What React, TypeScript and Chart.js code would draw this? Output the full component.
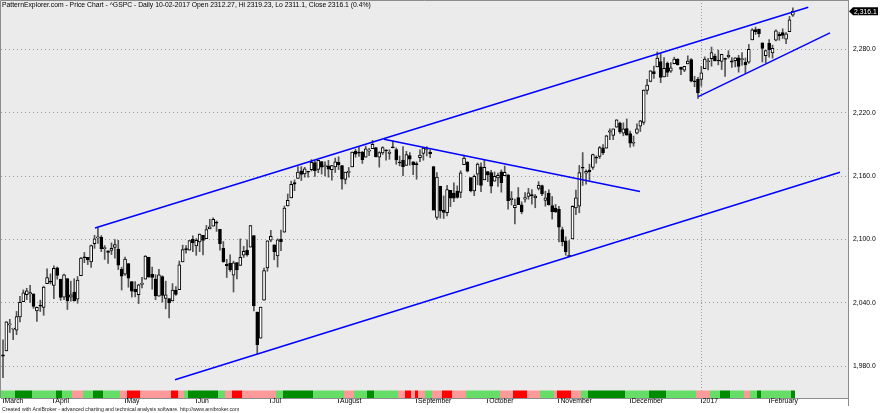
import React, { useEffect, useRef } from 'react';
import { Chart, registerables } from 'chart.js';
Chart.register(...registerables);

// ---- Data: ^GSPC daily, 10 Mar 2016 .. 10 Feb 2017 (bar index 0..233) ----
const opens = [
  1990.97, 1994.71, 2019.27, 2015.27, 2014.24, 2026.90, 2041.16, 2047.88, 2048.64, 2048.55, 2032.48, 2037.89, 2035.75, 2058.27, 2060.03,
  2056.62, 2073.19, 2062.50, 2045.56, 2063.01, 2045.54, 2050.23, 2043.72, 2065.92, 2082.89, 2083.10, 2078.83, 2096.05, 2101.52, 2102.09, 2091.49, 2089.37, 2089.84, 2092.57, 2090.93, 2071.82,
  2067.17, 2077.18, 2060.30, 2052.95, 2047.77, 2057.55, 2062.63, 2083.29, 2067.17, 2062.50, 2046.53, 2065.04, 2044.38, 2044.21, 2041.88, 2052.23, 2052.65, 2078.93, 2091.44, 2090.06, 2100.13,
  2093.94, 2097.71, 2104.07, 2100.83, 2110.18, 2112.71, 2115.65, 2109.57, 2091.75, 2076.65, 2077.60, 2066.36, 2078.20, 2075.58, 2085.19, 2089.75, 2092.80, 2103.81, 2031.45, 2006.67, 2042.69, 2073.17,
  2099.34, 2095.05, 2084.43, 2100.42, 2106.97, 2131.72, 2139.50, 2153.81, 2157.88, 2165.13, 2162.04, 2163.79, 2166.10, 2172.91, 2166.47, 2173.71, 2168.97, 2169.81, 2166.05, 2168.83,
  2173.15, 2169.94, 2156.81, 2163.51, 2168.79, 2183.76, 2182.24, 2182.81, 2177.97, 2183.74, 2186.08, 2187.02, 2177.84, 2181.90, 2184.24, 2181.58, 2187.81, 2185.09, 2173.29, 2175.10, 2170.19, 2179.45, 2173.56,
  2171.33, 2177.49, 2181.61, 2185.17, 2182.76, 2169.08, 2120.86, 2150.47, 2127.86, 2125.36, 2146.48, 2143.99, 2145.94, 2144.58, 2170.94, 2173.29, 2158.54, 2146.04, 2161.85, 2168.90, 2156.51,
  2164.33, 2163.37, 2155.15, 2158.22, 2164.19, 2160.39, 2161.35, 2137.67, 2130.26, 2139.68, 2132.95, 2138.31, 2140.81, 2142.51, 2139.43, 2148.50, 2151.14, 2136.97, 2144.06, 2132.23, 2129.78,
  2128.68, 2109.43, 2098.80, 2083.79, 2100.59, 2129.92, 2131.56, 2167.49, 2162.71, 2165.64, 2168.29, 2177.53, 2178.61, 2186.85, 2186.43, 2201.56, 2198.55, 2206.27, 2210.21, 2200.76, 2204.97,
  2200.17, 2191.12, 2200.65, 2207.26, 2210.72, 2241.13, 2249.73, 2258.83, 2263.32, 2268.35, 2253.77, 2266.81, 2259.24, 2266.50, 2270.54, 2262.93, 2260.25, 2266.23, 2270.23, 2249.50, 2251.61,
  2251.57, 2261.60, 2268.18, 2271.14, 2273.59, 2269.72, 2268.60, 2271.14, 2272.74, 2269.14, 2269.14, 2271.90, 2269.96, 2267.78, 2267.88, 2288.88, 2298.63, 2299.02, 2286.01, 2274.02,
  2285.59, 2276.69, 2288.54, 2294.28, 2295.87, 2289.55, 2296.70, 2312.27,
];
const highs = [
  2005.08, 2022.37, 2024.57, 2015.94, 2032.02, 2046.24, 2052.36, 2053.91, 2056.60, 2048.55, 2036.04, 2042.67, 2055.91, 2072.21, 2067.57,
  2075.07, 2074.02, 2062.50, 2067.33, 2063.01, 2060.63, 2062.93, 2065.05, 2083.18, 2087.84, 2083.22, 2094.66, 2104.05, 2111.05, 2103.78, 2094.32, 2089.37, 2096.87, 2099.89, 2099.30, 2073.85,
  2083.42, 2077.18, 2060.30, 2060.23, 2057.72, 2064.15, 2084.87, 2083.29, 2073.99, 2066.79, 2071.88, 2065.69, 2060.61, 2044.21, 2058.35, 2055.58, 2079.67, 2094.73, 2094.30, 2099.06, 2103.48,
  2100.97, 2105.26, 2104.07, 2113.36, 2119.22, 2120.55, 2117.64, 2109.57, 2098.12, 2081.30, 2085.65, 2079.62, 2078.20, 2100.66, 2093.66, 2099.71, 2113.32, 2103.81, 2031.45, 2036.09, 2073.13, 2098.94,
  2108.71, 2095.05, 2100.72, 2109.08, 2131.71, 2143.16, 2155.40, 2156.45, 2168.99, 2169.05, 2168.35, 2164.63, 2175.63, 2174.56, 2175.11, 2173.71, 2173.54, 2174.98, 2170.22, 2177.09,
  2178.29, 2170.20, 2163.79, 2168.19, 2182.87, 2185.44, 2187.66, 2183.41, 2188.45, 2186.28, 2193.81, 2187.02, 2183.08, 2187.81, 2185.00, 2184.94, 2193.42, 2186.66, 2179.00, 2187.94, 2183.48, 2182.27, 2173.79,
  2173.56, 2184.87, 2186.57, 2187.87, 2184.94, 2169.08, 2163.30, 2150.47, 2141.33, 2151.31, 2146.48, 2153.61, 2150.80, 2165.11, 2179.99, 2173.75, 2158.54, 2161.13, 2172.40, 2172.67, 2175.30,
  2164.41, 2165.46, 2163.95, 2162.93, 2165.86, 2169.60, 2161.56, 2145.36, 2138.19, 2149.19, 2135.70, 2144.38, 2148.44, 2147.18, 2142.63, 2154.79, 2151.54, 2145.73, 2147.13, 2140.72, 2133.25,
  2131.45, 2111.76, 2102.56, 2099.07, 2132.00, 2146.87, 2170.10, 2182.30, 2165.92, 2171.36, 2180.84, 2179.22, 2188.06, 2189.89, 2198.70, 2204.80, 2204.72, 2213.35, 2211.14, 2210.46, 2214.10,
  2202.60, 2197.95, 2209.42, 2212.78, 2241.63, 2251.69, 2259.80, 2264.03, 2277.53, 2276.20, 2272.12, 2268.05, 2267.47, 2272.56, 2271.23, 2263.18, 2263.79, 2273.82, 2271.31, 2254.51, 2253.58,
  2263.88, 2272.82, 2271.50, 2282.10, 2275.49, 2279.27, 2275.32, 2271.78, 2278.68, 2272.08, 2272.01, 2274.33, 2276.96, 2271.78, 2284.63, 2299.55, 2300.99, 2299.02, 2286.01, 2279.09,
  2289.14, 2283.97, 2298.31, 2296.18, 2299.40, 2295.91, 2311.08, 2319.23,
];
const lows = [
  1969.25, 1994.71, 2012.05, 2005.23, 2010.04, 2022.16, 2041.16, 2043.14, 2040.57, 2034.86, 2022.49, 2031.96, 2028.31, 2058.27, 2057.99,
  2043.98, 2062.57, 2042.56, 2043.09, 2033.80, 2041.69, 2041.88, 2039.74, 2065.92, 2078.13, 2076.31, 2073.65, 2091.68, 2096.32, 2088.52, 2081.20, 2077.52, 2085.80, 2082.31, 2071.62, 2052.28,
  2066.11, 2054.89, 2045.55, 2045.77, 2039.45, 2054.31, 2062.63, 2064.46, 2053.13, 2043.13, 2046.53, 2040.82, 2034.49, 2025.91, 2041.88, 2047.26, 2052.65, 2078.93, 2087.08, 2090.06, 2088.66,
  2085.10, 2088.59, 2085.36, 2100.83, 2110.18, 2112.71, 2107.73, 2089.96, 2078.46, 2064.10, 2069.80, 2050.37, 2062.84, 2075.58, 2083.02, 2084.36, 2092.80, 2032.57, 1991.68, 2006.67, 2042.69, 2070.00,
  2097.90, 2080.86, 2074.02, 2089.39, 2106.97, 2131.72, 2139.50, 2146.21, 2157.88, 2155.79, 2159.07, 2159.01, 2164.89, 2159.75, 2163.24, 2161.95, 2160.18, 2159.07, 2156.08, 2163.49,
  2166.21, 2147.58, 2152.70, 2159.07, 2168.79, 2177.85, 2178.61, 2172.00, 2177.97, 2179.42, 2186.08, 2178.15, 2168.50, 2180.46, 2175.13, 2175.96, 2186.80, 2171.25, 2169.74, 2160.39, 2170.19, 2170.41, 2161.35,
  2157.09, 2173.59, 2175.10, 2179.07, 2177.49, 2127.81, 2119.12, 2120.27, 2119.90, 2122.36, 2131.20, 2135.91, 2139.17, 2139.57, 2170.94, 2163.97, 2145.04, 2141.55, 2151.79, 2145.20, 2156.51,
  2154.77, 2144.01, 2155.15, 2150.28, 2144.85, 2160.39, 2128.84, 2132.77, 2114.72, 2132.98, 2124.43, 2135.49, 2138.15, 2133.44, 2130.09, 2146.91, 2141.54, 2131.59, 2132.52, 2119.36, 2125.53,
  2097.85, 2094.00, 2085.23, 2083.79, 2100.59, 2123.56, 2125.35, 2151.17, 2152.49, 2156.08, 2166.38, 2172.20, 2176.65, 2180.38, 2186.43, 2194.51, 2194.51, 2206.27, 2200.36, 2198.15, 2198.81,
  2187.44, 2188.37, 2199.97, 2202.21, 2208.93, 2237.57, 2249.23, 2252.37, 2263.32, 2248.44, 2253.77, 2254.24, 2258.21, 2266.14, 2265.15, 2256.08, 2258.84, 2266.15, 2249.11, 2244.56, 2233.62,
  2245.13, 2261.60, 2260.45, 2264.06, 2268.90, 2265.27, 2260.83, 2254.25, 2271.51, 2262.81, 2263.35, 2258.41, 2265.01, 2257.02, 2266.68, 2288.88, 2294.08, 2291.62, 2268.04, 2267.21,
  2272.44, 2271.65, 2287.88, 2288.57, 2290.16, 2285.38, 2296.61, 2311.10,
];
const closes = [
  1989.57, 2022.19, 2019.64, 2015.93, 2027.22, 2040.59, 2049.58, 2051.60, 2049.80, 2036.71, 2035.94, 2037.05, 2055.01, 2063.95, 2059.74,
  2072.78, 2066.13, 2045.17, 2066.66, 2041.91, 2047.60, 2041.99, 2061.72, 2082.42, 2082.78, 2080.73, 2094.34, 2100.80, 2102.40, 2091.48, 2091.58, 2087.79, 2091.70, 2095.15, 2075.81, 2065.30,
  2081.43, 2063.37, 2051.12, 2050.63, 2057.14, 2058.69, 2084.39, 2064.46, 2064.11, 2046.61, 2066.66, 2047.21, 2047.63, 2040.04, 2052.32, 2048.04, 2076.06, 2090.54, 2090.10, 2099.06, 2096.95,
  2099.33, 2105.26, 2099.13, 2109.41, 2112.13, 2119.12, 2115.48, 2096.07, 2079.06, 2075.32, 2071.50, 2077.99, 2071.22, 2083.25, 2088.90, 2085.45, 2113.32, 2037.41, 2000.54, 2036.09, 2070.77, 2098.86,
  2102.95, 2088.55, 2099.73, 2097.90, 2129.90, 2137.16, 2152.14, 2152.43, 2163.75, 2161.74, 2166.89, 2163.78, 2173.02, 2165.17, 2175.03, 2168.48, 2169.18, 2166.58, 2170.06, 2173.60,
  2170.84, 2157.03, 2163.79, 2164.25, 2182.87, 2180.89, 2181.74, 2175.49, 2185.79, 2184.05, 2190.15, 2178.15, 2182.22, 2187.02, 2183.87, 2182.64, 2186.90, 2175.44, 2172.47, 2169.04, 2180.38, 2176.12, 2170.95,
  2170.86, 2179.98, 2186.48, 2186.16, 2181.30, 2127.81, 2159.04, 2127.02, 2125.77, 2147.26, 2139.16, 2139.12, 2139.76, 2163.12, 2177.18, 2164.69, 2146.10, 2159.93, 2171.37, 2151.13, 2168.27,
  2161.20, 2150.49, 2159.73, 2160.77, 2153.74, 2163.66, 2136.73, 2139.18, 2132.55, 2132.98, 2126.50, 2139.60, 2144.29, 2141.34, 2141.16, 2151.33, 2143.16, 2139.43, 2133.04, 2126.41, 2126.15,
  2111.72, 2097.94, 2088.66, 2085.18, 2131.52, 2139.56, 2163.26, 2167.48, 2164.45, 2164.20, 2180.39, 2176.94, 2187.12, 2181.90, 2198.18, 2202.94, 2204.72, 2213.35, 2201.72, 2204.66, 2198.81,
  2191.08, 2191.95, 2204.71, 2212.23, 2241.35, 2246.19, 2259.53, 2256.96, 2271.72, 2253.28, 2262.03, 2258.07, 2262.53, 2270.76, 2265.18, 2260.96, 2263.79, 2268.88, 2249.92, 2249.26, 2238.83,
  2257.83, 2270.75, 2269.00, 2276.98, 2268.90, 2268.90, 2275.32, 2270.44, 2274.64, 2267.89, 2271.89, 2263.69, 2271.31, 2265.20, 2280.07, 2298.37, 2296.68, 2294.69, 2280.90, 2278.87,
  2279.55, 2280.85, 2297.42, 2292.56, 2293.08, 2294.67, 2307.87, 2316.10,
];

// month start bars and their labels
const monthTickIdx = [0, 15, 36, 57, 79, 99, 122, 143, 164, 185, 206, 226];
const monthLabels = ['March', 'April', 'May', 'Jun', 'Jul', 'August', 'September', 'October', 'November', 'December', '2017', 'February'];
const yearTickIdx = 206;
const priceTicks = [1980, 2040, 2100, 2160, 2220, 2280];

// trend lines: [bar index, price]
const upperChannel = [[27.14, 2110.9], [237.55, 2319.7]];
const lowerChannel = [[50.74, 1967.4], [246.9, 2163.6]];
const downTrend = [[112.4, 2194.9], [187.9, 2145.5]];
const wedgeSupport = [[205.1, 2235.2], [243.95, 2295.6]];

// colour band below the price: segment start bar and state
const bandStart = [0, 4, 9, 16, 18, 21, 24, 27, 30, 35, 37, 41, 50, 52, 54, 55, 64, 66, 68, 71, 81, 83, 92, 101, 104, 108, 110, 117, 119, 121, 122, 123, 125, 127, 130, 133, 137, 147, 151, 155, 159, 163, 164, 168, 171, 173, 184, 191, 196, 205, 209, 212, 215, 219, 221, 223, 224, 233];
const bandState = ['LG', 'DG', 'LG', 'DG', 'LG', 'PK', 'LG', 'DG', 'LG', 'PK', 'RD', 'PK', 'RD', 'PK', 'LG', 'DG', 'LG', 'PK', 'RD', 'PK', 'LG', 'DG', 'LG', 'PK', 'LG', 'DG', 'LG', 'PK', 'RD', 'PK', 'RD', 'PK', 'LG', 'PK', 'RD', 'PK', 'LG', 'PK', 'RD', 'PK', 'LG', 'PK', 'RD', 'PK', 'LG', 'DG', 'LG', 'DG', 'LG', 'PK', 'LG', 'DG', 'LG', 'PK', 'LG', 'DG', 'LG', 'DG'];
const bandColors: Record<string, string> = { LG: '#66dd66', DG: '#008c00', PK: '#ff9a9a', RD: '#ff0000' };

const titleText = 'PatternExplorer.com - Price Chart - ^GSPC - Daily 10-02-2017 Open 2312.27, Hi 2319.23, Lo 2311.1, Close 2316.1 (0.4%)';
const footerText = 'Created with AmiBroker - advanced charting and technical analysis software. http://www.amibroker.com';

const FONT = '"Liberation Sans", Arial, sans-serif';
const fmt = (v: number) => v.toLocaleString('en-US', { minimumFractionDigits: 1, maximumFractionDigits: 1 });

export default function App() {
  const ref = useRef<HTMLCanvasElement>(null);
  useEffect(() => {
    const canvas = ref.current;
    if (!canvas) return;
    const idx = closes.map((_, i) => i);
    const lineDs = (pts: number[][]) => ({
      type: 'line' as const,
      data: pts.map(([x, y]) => ({ x, y })),
      borderColor: '#0000ff',
      borderWidth: 1.5,
      pointRadius: 0,
      fill: false,
      tension: 0,
      order: 0,
    });
    const decor = {
      id: 'decor',
      beforeDraw(chart: any) {
        const { ctx, chartArea: a, width, height } = chart;
        ctx.save();
        ctx.fillStyle = '#ffffff';
        ctx.fillRect(0, 0, width, height);
        ctx.fillStyle = '#ebebeb';
        ctx.fillRect(a.left, a.top, a.right - a.left, a.bottom - a.top);
        ctx.restore();
      },
      beforeDatasetsDraw(chart: any) {
        const { ctx, chartArea: a } = chart;
        const xs = chart.scales.x;
        ctx.save();
        for (let k = 0; k < bandStart.length; k++) {
          const s = bandStart[k];
          const e = k + 1 < bandStart.length ? bandStart[k + 1] : closes.length;
          const x0 = Math.round(xs.getPixelForValue(s - 0.5));
          const x1 = Math.round(xs.getPixelForValue(e - 0.5));
          ctx.fillStyle = bandColors[bandState[k]];
          ctx.fillRect(x0, a.bottom - 7.5, x1 - x0, 7.5);
        }
        ctx.restore();
      },
      afterDraw(chart: any) {
        const { ctx, chartArea: a } = chart;
        const ys = chart.scales.y;
        ctx.save();
        // frame
        ctx.strokeStyle = '#8c8c8c';
        ctx.lineWidth = 1;
        ctx.beginPath();
        ctx.moveTo(0.5, a.bottom);
        ctx.lineTo(0.5, 0.5);
        ctx.lineTo(a.right, 0.5);
        ctx.moveTo(Math.round(a.right) + 0.5, a.bottom);
        ctx.lineTo(Math.round(a.right) + 0.5, a.bottom + 8);
        ctx.stroke();
        // title
        ctx.fillStyle = '#000';
        ctx.font = `6.8px ${FONT}`;
        ctx.textBaseline = 'middle';
        ctx.textAlign = 'left';
        ctx.fillText(titleText, 2, 5.5);
        // last price tag
        const last = closes[closes.length - 1];
        const py = ys.getPixelForValue(last);
        const lx = a.right + 1;
        ctx.fillStyle = '#000';
        ctx.beginPath();
        ctx.moveTo(lx, py);
        ctx.lineTo(lx + 4, py - 4);
        ctx.lineTo(lx + 29, py - 4);
        ctx.lineTo(lx + 29, py + 4);
        ctx.lineTo(lx + 4, py + 4);
        ctx.closePath();
        ctx.fill();
        ctx.fillStyle = '#fff';
        ctx.font = `6.8px ${FONT}`;
        ctx.fillText(fmt(last), lx + 5, py + 0.5);
        // footer
        ctx.fillStyle = '#222';
        ctx.font = `5.2px ${FONT}`;
        ctx.fillText(footerText, 2, 410);
        ctx.restore();
      },
    };

    const chart = new Chart(canvas, {
      type: 'bar',
      data: {
        datasets: [
          lineDs(upperChannel),
          lineDs(lowerChannel),
          lineDs(downTrend),
          lineDs(wedgeSupport),
          {
            type: 'bar',
            data: idx.map((i) => ({ x: i, y: [opens[i], closes[i]] })),
            backgroundColor: (c: any) => (closes[c.dataIndex] >= opens[c.dataIndex] ? '#ffffff' : '#000000'),
            borderColor: '#000000',
            borderWidth: 1,
            borderSkipped: false,
            grouped: false,
            barPercentage: 1,
            categoryPercentage: 1,
            maxBarThickness: 3,
            minBarLength: 1,
            order: 1,
          } as any,
          {
            type: 'bar',
            data: idx.map((i) => ({ x: i, y: [lows[i], highs[i]] })),
            backgroundColor: '#555555',
            borderWidth: 0,
            grouped: false,
            barPercentage: 1,
            categoryPercentage: 1,
            maxBarThickness: 1,
            order: 2,
          } as any,
        ],
      },
      options: {
        responsive: false,
        animation: false,
        events: [],
        layout: { padding: { left: 1, top: 0, right: 0, bottom: 0 } },
        plugins: { legend: { display: false }, tooltip: { enabled: false }, title: { display: false } },
        scales: {
          x: {
            type: 'linear',
            min: (1 - 3) / 3.39,
            max: (848 - 3) / 3.39,
            offset: false,
            bounds: 'data',
            afterBuildTicks: (s: any) => {
              s.ticks = monthTickIdx.map((v) => ({ value: v }));
            },
            afterFit: (s: any) => {
              s.height = 15;
              s.paddingLeft = 0;
              s.paddingRight = 0;
            },
            ticks: {
              autoSkip: false,
              maxRotation: 0,
              minRotation: 0,
              align: 'start',
              labelOffset: 1.5,
              padding: -6,
              color: '#000',
              font: { family: FONT, size: 6.8 },
              callback: (v: any) => {
                const k = monthTickIdx.indexOf(Number(v));
                return k >= 0 ? monthLabels[k] : '';
              },
            },
            grid: {
              offset: false,
              drawOnChartArea: true,
              color: (c: any) => (c.tick && c.tick.value === yearTickIdx ? '#9a9a9a' : 'rgba(0,0,0,0)'),
              tickColor: '#444',
              tickLength: 5,
              lineWidth: 1,
            },
            border: { display: true, color: '#8c8c8c', dash: [1, 2] },
          },
          y: {
            type: 'linear',
            position: 'right',
            min: 2280 - (398 - 49.3) / 1.057,
            max: 2280 + 49.3 / 1.057,
            beginAtZero: false,
            bounds: 'data',
            afterBuildTicks: (s: any) => {
              s.ticks = priceTicks.map((v) => ({ value: v }));
            },
            afterFit: (s: any) => {
              s.width = 32;
              s.paddingTop = 0;
              s.paddingBottom = 0;
            },
            ticks: {
              padding: 5,
              color: '#000',
              font: { family: FONT, size: 6.8 },
              callback: (v: any) => fmt(Number(v)),
            },
            grid: { color: '#9a9a9a', drawTicks: false, lineWidth: 1 },
            border: { display: true, color: '#8c8c8c', dash: [1, 3] },
          },
        },
      } as any,
      plugins: [decor],
    });
    return () => chart.destroy();
  }, []);
  return (
    <div style={{ position: 'absolute', left: 0, top: 0, width: 880, height: 413 }}>
      <canvas ref={ref} width={880} height={413} style={{ display: 'block' }} />
    </div>
  );
}
